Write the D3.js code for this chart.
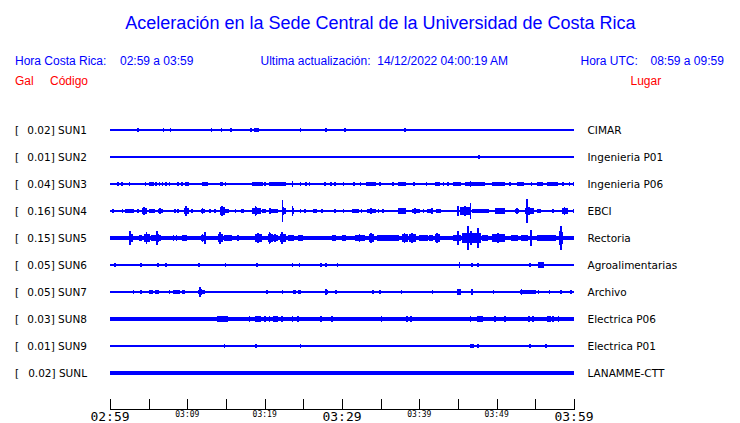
<!DOCTYPE html>
<html>
<head>
<meta charset="utf-8">
<script src="https://cdn.jsdelivr.net/npm/d3@7/dist/d3.min.js"></script>
<style>
  html, body { margin: 0; padding: 0; background: #fff; }
  svg { display: block; }
</style>
</head>
<body>
<svg id="chart" width="740" height="423"></svg>
<script>
// ---------------- DATA ----------------
const titleText = "Aceleración en la Sede Central de la Universidad de Costa Rica";
const headerLocal = ["Hora Costa Rica:", "02:59 a 03:59"];
const headerUpdate = "Ultima actualización:  14/12/2022 04:00:19 AM";
const headerUTC = ["Hora UTC:", "08:59 a 09:59"];
const columnHeads = ["Gal", "Código", "Lugar"];

const codes  = ["SUN1", "SUN2", "SUN3", "SUN4", "SUN5", "SUN6", "SUN7", "SUN8", "SUN9", "SUNL"];
const places = ["CIMAR", "Ingenieria P01", "Ingenieria P06", "EBCI", "Rectoria",
                "Agroalimentarias", "Archivo", "Electrica P06", "Electrica P01", "LANAMME-CTT"];
const gal    = [0.02, 0.01, 0.04, 0.16, 0.15, 0.05, 0.05, 0.03, 0.01, 0.02];
// background noise level (relative amplitude)
const noise  = [0.05, 0.05, 0.06, 0.07, 0.15, 0.05, 0.05, 0.14, 0.05, 0.15];

// minutes after 02:59 (domain 0..60)
const tickMinutes = [0, 5, 10, 15, 20, 25, 30, 35, 40, 45, 50, 55, 60];
const tickLabels  = ["02:59", "", "03:09", "", "03:19", "", "03:29", "", "03:39", "", "03:49", "", "03:59"];
const majorLabels = ["02:59", "03:29", "03:59"];

// bursts: [startMinute, endMinute, relative amplitude]
const sun1Bursts = [[3.6,3.6,0.15],[6.9,6.9,0.15],[7.8,7.8,0.15],[13.1,13.1,0.15],[14.4,14.4,0.15],
  [15.6,15.6,0.12],[18.2,18.2,0.15],[18.6,19.0,0.14],[19.1,19.1,0.15],[24.6,24.6,0.15],[27.9,27.9,0.15],
  [30.4,30.4,0.15],[38.1,38.1,0.08]];
const sun2Bursts = [[47.7,47.7,0.08]];
const sun3Bursts = [[1.0,1.0,0.12],[1.5,1.5,0.08],[2.5,2.5,0.1],[4.6,4.6,0.1],[5.1,5.6,0.14],[5.9,5.9,0.1],
  [6.4,6.4,0.1],[6.8,6.8,0.1],[7.2,7.2,0.1],[7.7,7.7,0.08],[8.8,8.8,0.08],[9.3,9.3,0.1],[9.7,10.0,0.14],
  [10.1,10.1,0.1],[11.9,12.5,0.14],[14.2,14.5,0.14],[14.9,14.9,0.1],[18.3,19.6,0.14],[20.0,20.0,0.1],
  [20.5,22.6,0.14],[23.6,23.6,0.28],[24.6,24.6,0.08],[25.3,25.3,0.1],[25.8,25.8,0.1],[27.8,27.8,0.06],
  [28.6,28.6,0.1],[29.1,29.1,0.1],[30.2,30.2,0.1],[31.5,31.5,0.06],[32.4,32.4,0.1],[33.1,34.3,0.14],
  [34.9,34.9,0.08],[36.6,36.6,0.06],[37.2,38.1,0.12],[39.3,39.3,0.1],[40.9,40.9,0.06],[42.0,42.5,0.12],
  [43.1,43.1,0.08],[43.7,43.7,0.1],[44.4,45.3,0.14],[45.9,48.3,0.14],[46.6,46.6,0.22],[49.4,50.9,0.14],
  [51.7,51.7,0.08],[52.6,53.4,0.12],[54.5,54.5,0.08],[55.2,55.8,0.12],[56.5,57.8,0.14],[58.6,58.6,0.08],
  [59.4,59.4,0.08],[59.9,59.9,0.08]];
const sun4Bursts = [[0.4,0.4,0.14],[1.6,1.6,0.1],[2.0,2.5,0.2],[2.6,3.0,0.1],[3.6,3.6,0.12],[4.2,4.7,0.3],
  [4.4,4.4,0.36],[5.0,5.7,0.14],[6.2,6.7,0.22],[8.4,8.4,0.06],[8.8,8.8,0.06],[9.6,10.1,0.35],[9.8,9.8,0.45],
  [10.6,10.6,0.08],[11.8,12.1,0.22],[12.9,12.9,0.05],[13.6,13.6,0.06],[14.2,14.7,0.38],[14.4,14.4,0.45],
  [14.8,15.2,0.14],[16.2,16.2,0.1],[17.0,17.2,0.12],[18.3,19.4,0.35],[18.8,18.8,0.45],[19.6,20.0,0.14],
  [20.5,20.9,0.22],[21.1,21.6,0.12],[22.2,22.6,0.3],[22.3,22.3,0.92],[23.5,23.7,0.3],[23.6,23.6,0.42],
  [24.6,24.6,0.06],[25.2,25.2,0.1],[26.3,26.7,0.14],[27.4,27.4,0.06],[29.1,29.1,0.06],[30.2,30.2,0.16],
  [31.3,32.1,0.14],[32.5,32.5,0.06],[33.2,34.3,0.22],[34.7,34.7,0.08],[35.3,35.3,0.08],[37.3,38.1,0.28],
  [39.0,39.9,0.22],[40.5,40.5,0.06],[41.0,41.4,0.14],[41.6,41.6,0.28],[42.2,42.7,0.06],[45.0,45.0,0.42],
  [45.3,46.5,0.4],[46.6,46.6,0.68],[46.8,48.9,0.16],[49.8,50.9,0.28],[52.4,52.8,0.22],[53.7,54.7,0.32],
  [53.9,53.9,1.0],[55.2,55.6,0.08],[57.3,57.3,0.2],[58.4,59.1,0.32],[59.9,59.9,0.08]];
const sun5Bursts = [[2.4,2.8,0.45],[2.6,2.6,0.6],[3.7,4.0,0.16],[4.4,5.0,0.4],[4.7,4.7,0.52],[5.3,5.8,0.28],
  [6.0,6.5,0.35],[6.1,6.1,0.58],[8.2,8.2,0.16],[8.6,8.6,0.18],[9.3,9.8,0.28],[11.8,12.1,0.35],[12.3,12.3,0.5],
  [14.0,14.5,0.4],[14.2,14.2,0.5],[14.8,15.7,0.17],[16.4,16.6,0.16],[18.8,19.5,0.38],[19.1,19.1,0.45],
  [20.4,20.9,0.4],[20.6,20.6,0.52],[21.1,21.6,0.35],[22.0,22.6,0.4],[22.2,22.2,0.52],[23.0,23.7,0.28],
  [24.3,24.8,0.17],[28.7,29.1,0.16],[30.0,30.4,0.16],[31.7,32.8,0.32],[33.5,34.0,0.4],[34.5,37.3,0.16],
  [37.7,38.4,0.4],[38.6,39.4,0.4],[39.9,41.0,0.18],[41.2,41.6,0.22],[42.0,42.5,0.4],[44.4,45.3,0.28],
  [45.0,45.0,0.58],[45.5,47.8,0.55],[46.3,46.3,1.0],[47.6,47.6,0.85],[48.1,48.7,0.28],[49.4,50.9,0.45],
  [51.9,52.6,0.28],[53.2,53.9,0.22],[54.4,54.4,0.68],[55.2,56.5,0.28],[56.7,57.5,0.18],[58.0,58.4,0.62],
  [58.3,58.3,1.0]];
const sun6Bursts = [[0.6,0.6,0.12],[4.0,4.0,0.12],[6.2,6.2,0.12],[7.2,7.2,0.12],[11.5,11.5,0.06],
  [14.9,14.9,0.12],[19.0,19.0,0.1],[23.6,23.6,0.12],[24.5,24.5,0.1],[27.3,27.3,0.12],[27.9,27.9,0.1],
  [29.4,29.4,0.1],[45.2,45.2,0.22],[46.8,46.8,0.1],[47.6,47.6,0.08],[54.3,54.3,0.06],[55.4,56.0,0.28]];
const sun7Bursts = [[3.0,3.0,0.1],[4.0,4.0,0.1],[5.0,5.4,0.12],[5.8,6.2,0.12],[7.7,7.7,0.06],[8.2,8.9,0.1],
  [9.3,9.6,0.12],[11.4,12.1,0.22],[11.6,11.6,0.4],[20.3,20.3,0.15],[22.3,22.3,0.1],[23.6,23.9,0.12],
  [24.3,24.6,0.12],[27.8,28.1,0.22],[29.2,29.2,0.06],[34.0,34.0,0.06],[34.9,34.9,0.1],[37.7,37.7,0.1],
  [41.7,41.7,0.1],[44.9,45.3,0.28],[46.8,46.8,0.25],[49.6,49.6,0.15],[53.0,55.0,0.12],[53.2,53.2,0.25],
  [55.4,55.4,0.1],[56.8,56.8,0.06],[58.3,58.3,0.1],[59.6,59.6,0.12]];
const sun8Bursts = [[13.8,15.1,0.22],[18.0,18.0,0.16],[18.8,19.4,0.22],[20.0,20.0,0.18],[20.6,20.6,0.18],
  [21.1,21.6,0.2],[22.2,22.2,0.16],[23.6,23.6,0.16],[24.3,24.3,0.16],[27.3,27.3,0.16],[28.7,28.7,0.18],
  [35.1,35.1,0.18],[38.4,38.4,0.16],[38.9,38.9,0.18],[46.6,46.6,0.16],[47.4,48.1,0.22],[49.8,49.8,0.16],
  [51.1,51.1,0.13],[54.2,54.2,0.18],[54.7,54.7,0.16],[56.5,56.9,0.16],[57.3,57.3,0.16],[58.0,58.0,0.13]];
const sun9Bursts = [[14.8,14.8,0.1],[18.9,18.9,0.1],[24.6,24.6,0.1],[46.6,46.9,0.1],[47.6,47.6,0.06],
  [54.3,54.3,0.04],[56.4,56.4,0.1]];
const sunLBursts = [];

const bursts = [sun1Bursts, sun2Bursts, sun3Bursts, sun4Bursts, sun5Bursts,
                sun6Bursts, sun7Bursts, sun8Bursts, sun9Bursts, sunLBursts];

// ---------------- DRAW ----------------
const BLUE = "#0000ff", RED = "#ff0000";
const svg = d3.select("#chart");

const x = d3.scaleLinear().domain([0, 60]).range([110, 574]);
const y = d3.scalePoint().domain(codes).range([130, 373]);
const amp = d3.scaleLinear().domain([0, 1]).range([0, 12]);

// title & headers
svg.append("text").attr("x", 380.5).attr("y", 29).attr("text-anchor", "middle")
  .attr("font-family", "Liberation Sans, Arial, sans-serif").attr("font-size", 18)
  .attr("fill", BLUE).text(titleText);

const hdr = svg.append("g").attr("font-family", "Liberation Sans, Arial, sans-serif")
  .attr("font-size", 12);
hdr.append("text").attr("x", 15).attr("y", 65).attr("fill", BLUE).text(headerLocal[0]);
hdr.append("text").attr("x", 120).attr("y", 65).attr("fill", BLUE).text(headerLocal[1]);
hdr.append("text").attr("x", 260.5).attr("y", 65).attr("fill", BLUE)
  .style("white-space", "pre").text(headerUpdate);
hdr.append("text").attr("x", 580.5).attr("y", 65).attr("fill", BLUE).text(headerUTC[0]);
hdr.append("text").attr("x", 650.5).attr("y", 65).attr("fill", BLUE).text(headerUTC[1]);
hdr.append("text").attr("x", 15).attr("y", 85).attr("fill", RED).text(columnHeads[0]);
hdr.append("text").attr("x", 50).attr("y", 85).attr("fill", RED).text(columnHeads[1]);
hdr.append("text").attr("x", 630.5).attr("y", 85).attr("fill", RED).text(columnHeads[2]);

// row labels
const lab = svg.append("g").attr("font-family", "DejaVu Sans, sans-serif").attr("font-size", 10.5)
  .attr("fill", "#000");
codes.forEach((c, i) => {
  const yy = y(c) + 4;
  lab.append("text").attr("x", 15).attr("y", yy).text("[");
  lab.append("text").attr("x", 87).attr("y", yy).attr("text-anchor", "end")
    .text(gal[i].toFixed(2) + "] " + c);
  lab.append("text").attr("x", 587.5).attr("y", yy).text(places[i]);
});

// traces
const tr = svg.append("g").attr("fill", BLUE).attr("shape-rendering", "crispEdges");
codes.forEach((c, i) => {
  const y0 = y(c);
  const g = tr.append("g");
  const nh = Math.max(0.5, amp(noise[i]));
  g.append("rect").attr("x", x(0)).attr("width", x(60) - x(0))
    .attr("y", y0 - nh).attr("height", 2 * nh);
  bursts[i].forEach(b => {
    const h = Math.max(nh + 1.6, amp(b[2]));
    const x0 = x(b[0]), x1 = x(b[1]);
    const w = x1 - x0;
    if (w >= 1) {
      const hb = Math.max(nh + 1, h * 0.8);
      g.append("rect").attr("x", x0).attr("width", w + 1).attr("y", y0 - hb).attr("height", 2 * hb);
    }
    const xc = (x0 + x1) / 2;
    g.append("rect").attr("x", xc - 0.7).attr("width", 1.6).attr("y", y0 - h).attr("height", 2 * h);
  });
});

// time axis
const axisY = 409;
const ax = svg.append("g").attr("stroke", "#000").attr("shape-rendering", "crispEdges");
ax.append("line").attr("x1", x(0)).attr("x2", x(60)).attr("y1", axisY + 0.5).attr("y2", axisY + 0.5);
ax.selectAll("line.tick").data(tickMinutes).enter().append("line").attr("class", "tick")
  .attr("x1", d => Math.round(x(d)) + 0.5).attr("x2", d => Math.round(x(d)) + 0.5)
  .attr("y1", axisY - 10).attr("y2", axisY + 0.5);
const tl = svg.append("g").attr("font-family", "DejaVu Sans Mono, monospace").attr("fill", "#000")
  .attr("text-anchor", "middle");
tickMinutes.forEach((m, i) => {
  const t = tickLabels[i];
  if (!t) return;
  const major = majorLabels.includes(t);
  tl.append("text").attr("x", x(m)).attr("y", major ? 421 : 417)
    .attr("font-size", major ? 13 : 8).text(t);
});
</script>
</body>
</html>
